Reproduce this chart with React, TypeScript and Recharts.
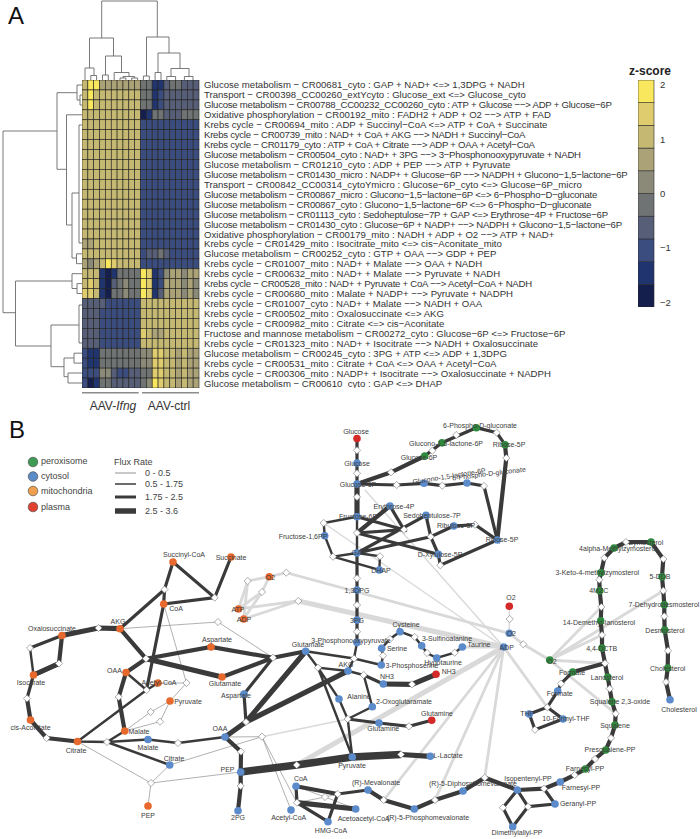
import { ComposedChart, ScatterChart, Scatter, Line, XAxis, YAxis } from 'recharts';

const FONT = 'Arial, "Liberation Sans", sans-serif';
const INK = '#3a3a3a';

const rowLabels = [
  'Glucose metabolism − CR00681_cyto : GAP + NAD+ <=> 1,3DPG + NADH',
  'Transport − CR00398_CC00260_extYcyto : Glucose_ext <=> Glucose_cyto',
  'Glucose metabolism − CR00788_CC00232_CC00260_cyto : ATP + Glucose −−> ADP + Glucose−6P',
  'Oxidative phosphorylation − CR00192_mito : FADH2 + ADP + O2 −−> ATP + FAD',
  'Krebs cycle − CR00694_mito : ADP + Succinyl−CoA <=> ATP + CoA + Succinate',
  'Krebs cycle − CR00739_mito : NAD+ + CoA + AKG −−> NADH + Succinyl−CoA',
  'Krebs cycle − CR01179_cyto : ATP + CoA + Citrate −−> ADP + OAA + Acetyl−CoA',
  'Glucose metabolism − CR00504_cyto : NAD+ + 3PG −−> 3−Phosphonooxypyruvate + NADH',
  'Glucose metabolism − CR01210_cyto : ADP + PEP −−> ATP + Pyruvate',
  'Glucose metabolism − CR01430_micro : NADP+ + Glucose−6P −−> NADPH + Glucono−1,5−lactone−6P',
  'Transport − CR00842_CC00314_cytoYmicro : Glucose−6P_cyto <=> Glucose−6P_micro',
  'Glucose metabolism − CR00867_micro : Glucono−1,5−lactone−6P <=> 6−Phospho−D−gluconate',
  'Glucose metabolism − CR00867_cyto : Glucono−1,5−lactone−6P <=> 6−Phospho−D−gluconate',
  'Glucose metabolism − CR01113_cyto : Sedoheptulose−7P + GAP <=> Erythrose−4P + Fructose−6P',
  'Glucose metabolism − CR01430_cyto : Glucose−6P + NADP+ −−> NADPH + Glucono−1,5−lactone−6P',
  'Oxidative phosphorylation − CR00179_mito : NADH + ADP + O2 −−> ATP + NAD+',
  'Krebs cycle − CR01429_mito : Isocitrate_mito <=> cis−Aconitate_mito',
  'Glucose metabolism − CR00252_cyto : GTP + OAA −−> GDP + PEP',
  'Krebs cycle − CR01007_mito : NAD+ + Malate −−> OAA + NADH',
  'Krebs cycle − CR00632_mito : NAD+ + Malate −−> Pyruvate + NADH',
  'Krebs cycle − CR00528_mito : NAD+ + Pyruvate + CoA −−> Acetyl−CoA + NADH',
  'Krebs cycle − CR00680_mito : Malate + NADP+ −−> Pyruvate + NADPH',
  'Krebs cycle − CR01007_cyto : NAD+ + Malate −−> NADH + OAA',
  'Krebs cycle − CR00502_mito : Oxalosuccinate <=> AKG',
  'Krebs cycle − CR00982_mito : Citrate <=> cis−Aconitate',
  'Fructose and mannose metabolism − CR00272_cyto : Glucose−6P <=> Fructose−6P',
  'Krebs cycle − CR01323_mito : NAD+ + Isocitrate −−> NADH + Oxalosuccinate',
  'Glucose metabolism − CR00245_cyto : 3PG + ATP <=> ADP + 1,3DPG',
  'Krebs cycle − CR00531_mito : Citrate + CoA <=> OAA + Acetyl−CoA',
  'Krebs cycle − CR00306_mito : NADP+ + Isocitrate −−> Oxalosuccinate + NADPH',
  'Glucose metabolism − CR00610_cyto : GAP <=> DHAP',
];

// z-scores, one row per reaction, 20 samples
const zScores = [
  [1.0, 1.9, 1.7, 0.5, 0.5, 0.5, 0.6, 0.5, 0.5, 0.5, -0.3, -0.3, -1.4, -1.3, -0.7, -0.4, -0.4, -0.7, -0.7, -0.7],
  [1.0, 1.9, 1.1, 1.0, 1.0, 1.0, 1.0, 1.0, 1.0, 1.0, -0.4, -0.4, -1.3, -0.9, -0.8, -0.8, -0.8, -0.8, -0.8, -0.8],
  [1.0, 1.9, 1.1, 1.0, 1.0, 1.0, 1.0, 1.0, 1.0, 1.0, -0.4, -0.4, -1.3, -0.9, -0.8, -0.8, -0.8, -0.8, -0.8, -0.8],
  [1.0, 1.0, 1.0, 1.0, 1.0, 1.0, 1.0, 1.0, 1.0, 1.0, -1.7, -1.4, -0.3, -0.2, -0.8, -0.8, -0.8, -0.3, -0.3, -0.3],
  [1.0, 1.0, 1.0, 1.0, 1.0, 1.0, 1.0, 1.0, 1.0, 1.0, -0.9, -0.9, -0.9, -0.9, -0.9, -0.9, -0.9, -0.9, -0.9, -0.9],
  [1.0, 1.0, 1.0, 1.0, 1.0, 1.0, 1.0, 1.0, 1.0, 1.0, -0.9, -0.9, -0.9, -0.9, -0.9, -0.9, -0.9, -0.9, -0.9, -0.9],
  [1.0, 1.0, 1.0, 1.0, 1.0, 1.0, 1.0, 1.0, 1.0, 1.0, -0.9, -0.9, -0.9, -0.9, -0.9, -0.9, -0.9, -0.9, -0.9, -0.9],
  [1.0, 1.0, 1.0, 1.0, 1.0, 1.0, 1.0, 1.0, 1.0, 1.0, -0.9, -0.9, -0.9, -0.9, -0.9, -0.9, -0.9, -0.9, -0.9, -0.9],
  [1.0, 1.0, 1.0, 1.0, 1.0, 1.0, 1.0, 1.0, 1.0, 1.0, -0.9, -0.9, -0.9, -0.9, -0.9, -0.9, -0.9, -0.9, -0.9, -0.9],
  [1.0, 1.0, 1.0, 1.0, 1.0, 1.0, 1.0, 1.0, 1.0, 1.0, -0.9, -0.9, -0.9, -0.9, -0.9, -0.9, -0.9, -0.9, -0.9, -0.9],
  [1.0, 1.0, 1.0, 1.0, 1.0, 1.0, 1.0, 1.0, 1.0, 1.0, -0.9, -0.9, -0.9, -0.9, -0.9, -0.9, -0.9, -0.9, -0.9, -0.9],
  [1.0, 1.0, 1.0, 1.0, 1.0, 1.0, 1.0, 1.0, 1.0, 1.0, -0.9, -0.9, -0.9, -0.9, -0.9, -0.9, -0.9, -0.9, -0.9, -0.9],
  [1.0, 1.0, 1.0, 1.0, 1.0, 1.0, 1.0, 1.0, 1.0, 1.0, -0.9, -0.9, -0.9, -0.9, -0.9, -0.9, -0.9, -0.9, -0.9, -0.9],
  [1.0, 1.0, 1.0, 1.0, 1.0, 1.0, 1.0, 1.0, 1.0, 1.0, -0.9, -0.9, -0.9, -0.9, -0.9, -0.9, -0.9, -0.9, -0.9, -0.9],
  [1.0, 1.0, 1.0, 1.0, 1.0, 1.0, 1.0, 1.0, 1.0, 1.0, -0.9, -0.9, -0.9, -0.9, -0.9, -0.9, -0.9, -0.9, -0.9, -0.9],
  [1.0, 1.0, 1.0, 1.0, 1.0, 1.0, 1.0, 1.0, 1.0, 1.0, -0.9, -0.9, -0.9, -0.9, -0.9, -0.9, -0.9, -0.9, -0.9, -0.9],
  [0.8, 0.5, 1.0, 1.0, 1.0, 1.0, 1.0, 1.0, 1.0, 1.0, -0.9, -0.9, -0.9, -0.9, -0.9, -0.9, -0.9, -0.9, -0.9, -0.9],
  [1.0, 0.9, 1.0, 1.0, 1.0, 1.0, 1.0, 1.0, 1.0, 1.0, -1.2, -0.8, -0.5, -0.4, -0.7, -0.9, -0.9, -0.9, -0.9, -0.9],
  [0.5, 0.4, 0.5, 1.2, 1.7, 1.5, 1.0, 1.0, 1.0, 1.0, -0.9, -0.9, -0.9, -0.9, -0.9, -0.9, -0.9, -0.9, -0.9, -0.9],
  [1.0, 0.9, 1.0, -1.4, -1.7, -1.5, -0.2, -0.2, -0.2, -0.2, 1.9, 1.6, -1.3, -1.1, 0.4, 0.6, 0.6, 0.4, 0.5, 0.5],
  [0.9, 1.6, 1.0, -1.3, -1.8, -0.5, -0.2, 0.1, -0.2, -0.2, 2.0, 1.5, -1.6, -0.9, 0.5, 0.8, 0.7, 0.2, 0.6, 0.2],
  [1.5, 1.5, 1.0, -1.4, -1.7, -0.4, -0.2, 0.1, -0.2, -0.2, 1.8, 1.4, -1.5, -0.8, 0.6, 0.8, 0.7, 0.2, 0.6, 0.2],
  [-0.5, -0.5, -0.6, -0.8, -0.9, -0.9, -0.9, -0.9, -0.9, -0.9, 1.0, 1.0, 1.0, 1.0, 1.0, 1.0, 1.0, 1.0, 1.0, 1.0],
  [-0.8, -0.5, -0.5, -0.9, -0.9, -0.9, -0.9, -0.9, -0.9, -0.9, 1.0, 1.0, 1.0, 1.0, 1.0, 1.0, 1.0, 1.0, 1.0, 1.0],
  [-0.8, -0.5, -0.5, -0.9, -0.9, -0.9, -0.9, -0.9, -0.9, -0.9, 1.0, 1.0, 1.0, 1.0, 1.0, 1.0, 1.0, 1.0, 1.0, 1.0],
  [-0.8, -0.6, -0.8, -0.9, -0.9, -0.9, -0.9, -0.9, -0.9, -0.9, 1.5, 1.1, 0.5, 0.5, 1.0, 1.0, 1.0, 1.0, 1.0, 1.0],
  [-0.8, -0.6, -0.8, -0.9, -0.9, -0.9, -0.9, -0.9, -0.9, -0.9, 1.0, 1.0, 1.0, 1.0, 1.0, 1.0, 1.0, 1.0, 1.0, 1.0],
  [-0.9, -1.3, -1.5, -0.4, -0.4, -0.4, -0.4, -0.4, -0.4, -0.4, 0.1, 0.2, 1.4, 1.5, 1.0, 1.0, 0.6, 1.0, 0.6, 0.6],
  [-0.9, -1.3, -1.5, -0.4, -0.4, -0.4, -0.4, -0.4, -0.4, -0.4, 0.1, 0.2, 1.4, 1.5, 1.0, 1.0, 0.6, 1.0, 0.6, 0.6],
  [-1.0, -1.2, -1.2, 0.0, 0.0, -0.5, -0.9, -0.9, -0.5, -0.5, -0.2, -0.2, 1.5, 1.4, 1.0, 1.0, 0.6, 1.0, 0.6, 0.6],
  [-1.2, -1.8, -1.4, -0.4, -0.4, -0.5, -0.5, -0.5, -0.5, -0.5, -0.1, 0.0, 2.0, 1.6, 1.0, 1.0, 0.6, 1.0, 0.6, 0.6],
];

const binEdges = [-2.09, -1.672, -1.254, -0.836, -0.418, 0, 0.418, 0.836, 1.254, 1.672, 2.09];
const binColors = ['#141f4e', '#20346f', '#3b4d7f', '#575f78', '#707374', '#8b8a79', '#aba277', '#c5b873', '#dfcc6f', '#f9e75e'];
const zTicks = [-2, -1, 0, 1, 2];

// dendrograms, drawn as elbow paths (x, y, x, y, ...)
const dendrogramPaths = [
  [101.7, 38, 101.7, 1, 157.3, 1, 157.3, 37],
  [89.5, 68, 89.5, 38, 113.5, 38, 113.5, 56],
  [105.5, 75, 105.5, 56, 121.5, 56, 121.5, 72.5],
  [85, 80, 85, 68, 94, 68, 94, 75.5],
  [90.8, 80, 90.8, 75.5, 96.6, 75.5, 96.6, 80],
  [102.5, 80, 102.5, 75, 108.3, 75, 108.3, 80],
  [114.2, 80, 114.2, 72.5, 129, 72.5, 129, 76.5],
  [123, 78, 123, 76.5, 134.6, 76.5, 134.6, 78],
  [120, 80, 120, 78, 125.9, 78, 125.9, 80],
  [131.7, 80, 131.7, 78, 137.6, 78, 137.6, 80],
  [146.5, 76, 146.5, 37, 169, 37, 169, 53],
  [143.4, 80, 143.4, 76, 149.3, 76, 149.3, 80],
  [158, 72.5, 158, 53, 180, 53, 180, 68.5],
  [155.1, 80, 155.1, 72.5, 161, 72.5, 161, 80],
  [171, 76.5, 171, 68.5, 189, 68.5, 189, 76.5],
  [166.8, 80, 166.8, 76.5, 175.6, 76.5, 175.6, 80],
  [184.4, 80, 184.4, 76.5, 193, 76.5, 193, 80],
  [57, 131, 3, 131, 3, 312.7, 15.5, 312.7],
  [77, 92.7, 57, 92.7, 57, 169.3, 66.5, 169.3],
  [82, 85, 77, 85, 77, 100, 80, 100],
  [82, 95, 80, 95, 80, 105, 82, 105],
  [82, 114.8, 66.5, 114.8, 66.5, 225, 72, 225],
  [79, 193, 72, 193, 72, 258, 76.5, 258],
  [82, 253.8, 76.5, 253.8, 76.5, 263.7, 82, 263.7],
  [82, 125, 79, 125, 79, 243, 82, 243],
  [72, 281, 15.5, 281, 15.5, 346, 51, 346],
  [82, 273.7, 72, 273.7, 72, 288.5, 77, 288.5],
  [82, 283.6, 77, 283.6, 77, 293.5, 82, 293.5],
  [79, 325, 51, 325, 51, 366.7, 64, 366.7],
  [82, 305, 79, 305, 79, 343, 82, 343],
  [74, 358, 64, 358, 64, 376.7, 68, 376.7],
  [82, 353.2, 74, 353.2, 74, 363.1, 82, 363.1],
  [82, 373, 68, 373, 68, 383, 82, 383],
];
const groupBars = [
  [82, 392.7, 138.7, 392.7],
  [142, 392.7, 199, 392.7],
];

// flux edges by line weight
const paleWideEdges = [
  [296.7, 765, 503.7, 647],
  [298.3, 601, 503.7, 647],
];
const paleEdges = [
  [238.5, 609, 247.7, 581, 269.3, 576.7, 286.3, 572.7, 509.3, 633.3],
  [243.7, 619, 262, 592, 269.3, 576.7],
  [238.5, 609, 262, 592],
  [238.5, 609, 298.3, 601, 243.7, 619],
  [247.7, 581, 243.7, 619],
  [383.7, 800, 503.7, 647],
  [435, 800, 503.7, 647],
  [484.7, 777.7, 503.7, 647],
  [547.3, 707.3, 503.7, 647],
  [462.3, 647, 503.7, 647],
  [509.3, 633.3, 523.3, 644.3, 549.7, 660, 605, 663.3],
  [549.7, 660, 601.3, 607],
  [549.7, 660, 602, 635],
  [549.7, 660, 663.3, 590.7],
  [549.7, 660, 615.7, 713.7],
];
const paleThinEdges = [
  [365, 490, 503.7, 647],
  [323.7, 523, 503.7, 647],
  [262, 736.7, 347.7, 719],
  [509.3, 606.3, 509.3, 633.3],
];
const thinEdges = [
  [120, 628.7, 218, 622, 273, 657.7],
  [163.7, 604, 186.5, 683, 158, 683],
  [186.5, 683, 170, 701, 150.7, 712, 124.7, 731],
  [170, 701, 160, 721.7, 124.7, 731],
  [77.5, 741.5, 151, 783, 169.7, 765, 262, 736.7, 225, 737],
  [151, 783, 148, 806],
  [151, 783, 240.7, 772],
  [262, 736.7, 291, 810],
  [262, 736.7, 297, 802.7],
  [297, 802.7, 325, 797, 337.7, 794],
  [296, 786.3, 325, 797, 355.7, 809],
];
const flux2Edges = [
  [30, 648, 33.5, 675],
  [77.5, 741.5, 107, 742, 124.7, 731],
  [107, 742, 148, 739.5, 178, 743, 225, 737],
  [107, 742, 169.7, 765],
  [126, 672.5, 146.5, 690, 158, 683],
  [77.5, 741.5, 146.5, 690],
  [305.7, 651.3, 354, 658.5, 381.3, 665],
  [354, 658.5, 357, 642.5],
  [354, 658.5, 348, 671],
  [305.7, 651.3, 318, 667.7, 348, 671],
  [318, 667.7, 352.3, 757],
  [318, 667.7, 339, 699, 347.7, 719, 352.3, 757],
  [372.3, 706.7, 347.7, 719],
  [348, 671, 363.7, 675, 372.3, 706.7],
  [381.7, 648.3, 383, 655.7, 381.3, 665],
  [381.7, 648.3, 390, 639, 400, 631.7, 414.7, 637, 421.7, 645.7, 427, 653, 436.7, 658, 454.7, 652.7, 462.3, 647],
  [357, 516.7, 323.7, 523, 324.7, 535.7, 333, 556.7, 357, 553, 380, 556.3, 379.3, 570, 333, 556.7],
  [357, 516.7, 357, 553],
];
const flux3Edges = [
  [231, 557, 214.7, 597.7, 173, 562, 164.5, 589.5, 163.7, 604, 214.7, 597.7],
  [120, 628.7, 164.5, 589.5],
  [163.7, 604, 146.5, 690],
  [62, 635.5, 30, 648],
  [33.5, 675, 27, 698.5],
  [273, 657.7, 244, 694, 246, 722],
  [347.7, 719, 379, 723, 409, 726.3, 431.7, 720.3],
  [363.7, 675, 383.3, 684],
  [357, 438.5, 357, 484],
  [357, 553, 357, 642.5],
  [357, 484, 396.7, 485, 424, 483.3, 442.3, 485.7, 467, 483, 484, 486, 497.3, 540, 475, 524.7, 453.7, 526, 430.7, 536.7, 357, 553],
  [424.7, 456, 442, 442.7, 476.3, 427.7, 496.7, 432.7, 505, 444.7],
  [426, 515.3, 430.7, 536.7, 438.3, 554.3, 440.3, 565.3, 497.3, 540],
  [426, 515.3, 357, 553],
  [390, 506, 404, 529.7, 357, 516.7],
  [404, 529.7, 357, 533, 438.3, 554.3],
  [337.7, 794, 368, 790],
  [296, 786.3, 297, 802.7, 328, 821.7, 337.7, 794],
  [517.3, 790, 503, 807.7, 512.7, 826.7, 528, 806.7, 517.3, 790],
  [528, 806.7, 555, 804, 544, 788.7],
  [572.7, 672, 561, 683.7, 557.7, 691, 547.3, 707.3, 529.3, 714, 535, 729.7, 563, 719, 547.3, 707.3],
];
const flux4Edges = [
  [120, 628.7, 146, 658.7, 211, 647, 273, 657.7],
  [146, 658.7, 126, 672.5, 118.7, 697, 124.7, 731],
  [222, 677, 273, 657.7, 305.7, 651.3],
  [62, 635.5, 59, 663.5, 33.5, 675],
  [27, 698.5, 30.5, 720, 46.5, 738, 77.5, 741.5],
  [225, 737, 241, 751.7, 240.7, 772, 240.7, 786, 238, 810.7],
  [390, 506, 357, 533],
  [357, 484, 391, 472.3, 424.7, 456],
  [505, 444.7, 506.3, 458, 497.3, 540],
  [296, 786.3, 337.7, 794],
  [368, 790, 383.7, 800, 414.3, 809, 435, 800, 463, 791, 484.7, 777.7, 517.3, 790, 544, 788.7, 560.3, 782, 574.7, 775, 585.3, 769, 595, 759, 605.7, 750, 611, 738, 615, 725, 615.7, 713.7, 612, 701.7, 609.7, 688.7, 607.7, 677, 605, 663.3, 602, 648, 602, 635, 600.7, 620.7, 601.3, 607, 599.7, 590.7, 599.3, 579.7, 601, 572.7, 604.3, 558, 614, 548, 626, 542, 651, 542, 663.3, 559, 662, 576.7, 663.3, 590.7, 664.3, 604.7, 664.3, 616.3, 664.7, 630, 668, 650.7, 667.7, 668, 666, 682, 670, 699.7],
  [605, 663.3, 572.7, 672],
];
const flux5Edges = [
  [62, 635.5, 98.5, 628, 120, 628.7],
  [146, 658.7, 222, 677],
  [225, 737, 246, 722, 348, 671],
  [305.7, 651.3, 246, 722],
  [59, 663.5, 33.5, 675],
  [357, 484, 357, 516.7],
  [383.3, 684, 412, 684.3, 436, 674.3],
  [297, 802.7, 355.7, 809],
  [401, 754.5, 430.3, 756.3],
];
const flux7Edges = [[240.7, 772, 296.7, 765, 352.3, 757, 401, 754.5]];

const legendEdges = [
  { weight: 0.8, color: '#777777', path: [115, 473, 136, 473] },
  { weight: 1.5, color: INK, path: [115, 484, 136, 484] },
  { weight: 3, color: INK, path: [115, 497, 136, 497] },
  { weight: 5.5, color: INK, path: [115, 511, 136, 511] },
];

const reactionDiamonds = [
  [164.5, 589.5], [214.7, 597.7], [98.5, 628], [30, 648], [59, 663.5], [27, 698.5], [46.5, 738], [107, 742], [178, 743],
  [151, 783], [146, 658.7], [118.7, 697], [146.5, 690], [186.5, 683], [150.7, 712], [160, 721.7], [218, 622], [240.7, 786],
  [241, 751.7], [262, 736.7], [273, 657.7], [246, 722], [318, 667.7], [354, 658.5], [357, 631.7], [383, 655.7], [390, 639],
  [414.7, 637], [427, 653], [454.7, 652.7], [363.7, 675], [412, 684.3], [347.7, 719], [409, 726.3], [296.7, 765], [401, 754.5],
  [337.7, 794], [325, 797], [383.7, 800], [435, 800], [297, 802.7], [484.7, 777.7], [544, 788.7], [503, 807.7], [528, 806.7],
  [574.7, 775], [595, 759], [611, 738], [615.7, 713.7], [609.7, 688.7], [605, 663.3], [602, 635], [601.3, 607], [599.3, 579.7],
  [604.3, 558], [626, 542], [663.3, 559], [663.3, 590.7], [664.3, 616.3], [668, 650.7], [666, 682], [509.7, 619], [523.3, 644.3],
  [561, 683.7], [547.3, 707.3], [535, 729.7], [357, 450.3], [357, 473.3], [357, 497], [357, 533], [357, 578.3], [357, 605],
  [391, 472.3], [432.3, 450.7], [456.3, 435], [496.7, 432.7], [506.3, 458], [396.7, 485], [442.3, 485.7], [484, 486], [404, 529.7],
  [430.7, 536.7], [475, 524.7], [440.3, 565.3], [323.7, 523], [333, 556.7], [380, 556.3], [286.3, 572.7], [247.7, 581], [262, 592], [298.3, 601],
];
const peroxisomeNodes = [
  [424.7, 456], [442, 442.7], [476.3, 427.7], [505, 444.7], [585.3, 769], [605.7, 750], [615, 725], [612, 701.7], [607.7, 677],
  [602, 648], [600.7, 620.7], [599.7, 590.7], [601, 572.7], [614, 548], [651, 542], [662, 576.7], [664.3, 604.7], [664.7, 630],
  [667.7, 668], [549.7, 660], [572.7, 672],
];
const cytosolNodes = [
  [148, 739.5], [225, 737], [169.7, 765], [244, 694], [240.7, 772], [238, 810.7], [305.7, 651.3], [348, 671], [357, 642.5], [357, 620],
  [381.7, 648.3], [381.3, 665], [400, 631.7], [421.7, 645.7], [436.7, 658], [462.3, 647], [383.3, 684], [339, 699], [372.3, 706.7],
  [379, 723], [352.3, 757], [430.3, 756.3], [296, 786.3], [368, 790], [414.3, 809], [463, 791], [291, 810], [355.7, 809], [328, 821.7],
  [517.3, 790], [560.3, 782], [555, 804], [512.7, 826.7], [670, 699.7], [509.3, 633.3], [503.7, 647], [557.7, 691], [529.3, 714], [563, 719],
  [497.3, 540], [357, 463], [357, 484], [357, 516.7], [357, 553], [357, 590], [424, 483.3], [467, 483], [390, 506], [426, 515.3], [453.7, 526],
  [438.3, 554.3], [324.7, 535.7], [379.3, 570],
];
const mitochondriaNodes = [
  [173, 562], [231, 557], [163.7, 604], [120, 628.7], [62, 635.5], [33.5, 675], [30.5, 720], [77.5, 741.5], [124.7, 731], [148, 806], [126, 672.5],
  [158, 683], [170, 701], [211, 647], [222, 677], [269.3, 576.7], [238.5, 609], [243.7, 619],
];
const plasmaNodes = [[357, 438.5], [436, 674.3], [431.7, 720.3], [509.3, 606.3]];

const compartmentLegend = [
  { name: 'peroxisome', color: '#3f9a53', x: 33, y: 462 },
  { name: 'cytosol', color: '#5b8cc8', x: 33, y: 476.5 },
  { name: 'mitochondria', color: '#f0a04c', x: 33, y: 491 },
  { name: 'plasma', color: '#e2402e', x: 33, y: 507 },
];
const fluxLabels = [
  { text: 'Flux Rate', x: 114, y: 462 },
  { text: '0 - 0.5', x: 145, y: 473 },
  { text: '0.5 - 1.75', x: 145, y: 484 },
  { text: '1.75 - 2.5', x: 145, y: 497 },
  { text: '2.5 - 3.6', x: 145, y: 511 },
  { text: 'peroxisome', x: 41, y: 461 },
  { text: 'cytosol', x: 41, y: 476 },
  { text: 'mitochondria', x: 41, y: 491 },
  { text: 'plasma', x: 41, y: 507 },
];

// name, x, y, and rotation when the label is tilted
const metaboliteLabels: [string, number, number, number?][] = [
  ['Succinyl-CoA', 184, 554], ['Succinate', 231, 557], ['CoA', 176, 608], ['AKG', 118, 621], ['Oxalosuccinate', 52, 628],
  ['Isocitrate', 31, 682.5], ['cis-Aconitate', 30.5, 727.7], ['Citrate', 76, 750.5], ['Malate', 139, 731], ['Malate', 148, 747.5],
  ['OAA', 220, 728], ['Citrate', 174, 758], ['PEP', 148, 815], ['OAA', 114.5, 670], ['Acetyl-CoA', 159, 682.5], ['Pyruvate', 188, 701],
  ['Aspartate', 217, 639], ['Glutamate', 225, 683], ['Aspartate', 236, 695], ['PEP', 227.5, 769], ['2PG', 238, 817.5], ['Glutamate', 308, 644.5],
  ['AKG', 346, 664.7], ['3-Phosphonooxypyruvate', 351, 640], ['3PG', 357, 620], ['Serine', 397, 648], ['3-Phosphoserine', 412, 665],
  ['Cysteine', 406, 624.5], ['3-Sulfinoalanine', 447, 638.5], ['Hypotaurine', 443, 662.7], ['Taurine', 479, 644], ['NH3', 387, 676.5],
  ['NH3', 448.7, 671], ['Alanine', 359, 696], ['2-Oxoglutaramate', 404, 701.7], ['Glutamine', 383.3, 728], ['Glutamine', 437, 713],
  ['Pyruvate', 352, 765], ['L-Lactate', 448, 755.5], ['CoA', 300.7, 778], ['(R)-Mevalonate', 376, 782.7], ['(R)-5-Phosphomevalonate', 428, 817],
  ['(R)-5-Diphosphomevalonate', 473, 783], ['Acetyl-CoA', 288.7, 817.7], ['Acetoacetyl-CoA', 363.7, 818], ['HMG-CoA', 331, 830],
  ['Isopentenyl-PP', 528, 778.7], ['Farnesyl-PP', 581, 787], ['Geranyl-PP', 578, 803.7], ['Dimethylallyl-PP', 517, 832.7], ['Farnesyl-PP', 585, 768.7],
  ['Presqualene-PP', 610, 749.7], ['Squalene', 615, 725.7], ['Squalene 2,3-oxide', 620, 701.7], ['Lanosterol', 607, 677], ['4,4-DCTB', 601.7, 648],
  ['14-Demethyl-lanosterol', 599, 622], ['4MZC', 598.7, 590], ['3-Keto-4-methylzymosterol', 597.3, 572.7], ['4alpha-Methylzymosterol', 618, 548],
  ['Zymosterol', 646, 542], ['5-DDB', 660, 576.7], ['7-Dehydrodesmosterol', 664, 604.7], ['Desmosterol', 665, 630.7], ['Cholesterol', 667.7, 668],
  ['Cholesterol', 679, 709.7], ['O2', 511, 597.7], ['O2', 511.3, 633.7], ['ADP', 506.7, 647], ['O2', 552, 661], ['Formate', 572, 672],
  ['Formate', 559.7, 693.3], ['THF', 527, 713], ['10-Formyl-THF', 566, 718.7], ['Ribose-5P', 502, 539.7], ['Glucose', 356, 431], ['Glucose', 357, 463],
  ['Glucose-6P', 358, 484], ['Fructose-6P', 358, 516], ['GAP', 359, 552], ['1,3DPG', 357, 590], ['Glucose-6P', 419, 457],
  ['Glucono-1,5-lactone-6P', 446, 443], ['6-Phospho-D-gluconate', 480, 425.5], ['Ribose-5P', 509, 444], ['Glucono-1,5-lactone-6P', 449, 476, -9],
  ['6-Phospho-D-gluconate', 489, 473.5, -7], ['Erythrose-4P', 394, 506], ['Sedoheptulose-7P', 432, 515.5], ['Ribulose-5P', 456, 525.5],
  ['D-Xylulose-5P', 440, 554.5], ['Fructose-1,6PP', 303, 536], ['DHAP', 381, 570], ['O2', 270.5, 577], ['ATP', 238, 609], ['ADP', 244, 619],
];

const toBrokenLine = (paths: number[][]) =>
  paths.flatMap((path) => {
    const points: { x: number; y: number | null }[] = [];
    for (let i = 0; i < path.length; i += 2) points.push({ x: path[i], y: path[i + 1] });
    points.push({ x: path[path.length - 2], y: null });
    return points;
  });
const toPoints = (list: number[][]) => list.map(([x, y]) => ({ x, y }));

const edgeBands = [
  { data: paleWideEdges, weight: 5, color: '#d9d9d9' },
  { data: paleEdges, weight: 2.8, color: '#d9d9d9' },
  { data: paleThinEdges, weight: 1.4, color: '#d9d9d9' },
  { data: thinEdges, weight: 0.7, color: '#8f8f8f' },
  { data: flux2Edges, weight: 2.4, color: INK },
  { data: flux3Edges, weight: 3.2, color: INK },
  { data: flux4Edges, weight: 4.2, color: INK },
  { data: flux5Edges, weight: 5.2, color: INK },
  { data: flux7Edges, weight: 7.5, color: INK },
];
const nodeGroups = [
  { data: peroxisomeNodes, color: '#2f8a3e' },
  { data: cytosolNodes, color: '#5b8bcb' },
  { data: mitochondriaNodes, color: '#e8692d' },
  { data: plasmaNodes, color: '#d42a2a' },
];

const heatmapData = zScores.flatMap((row, r) => row.map((z, c) => ({ x: c + 0.5, y: r + 0.5, z })));
const binData = binColors.map((color, i) => ({ x: 0.5, y: (binEdges[i] + binEdges[i + 1]) / 2, color }));
const binColor = (z: number) => {
  const i = binEdges.findIndex((edge) => z < edge) - 1;
  return binColors[Math.max(0, i)];
};

const CELL_W = 117 / 20;
const CELL_H = 308 / 31;
const BIN_H = 227 / 10;

function HeatCell(props: any) {
  const { cx, cy, payload } = props;
  return (
    <rect x={cx - CELL_W / 2} y={cy - CELL_H / 2} width={CELL_W} height={CELL_H} fill={binColor(payload.z)} stroke="#20201c" strokeWidth={0.6} />
  );
}

function BinCell(props: any) {
  const { cx, cy, payload } = props;
  return <rect x={cx - 8} y={cy - BIN_H / 2} width={16} height={BIN_H} fill={payload.color} stroke="#2a2a2a" strokeWidth={0.6} />;
}

// plain ticks: the axis' own text wraps long labels
function RowTick(props: any) {
  const { y, payload } = props;
  const label = rowLabels[Math.floor(payload.value)];
  // our minus sign is wider than the original's, so rows with many of them run long
  const minusCount = label.split('−').length - 1;
  return (
    <text x={122} y={y} fontSize={9.6} letterSpacing={minusCount >= 4 ? -0.25 : 0} fontFamily={FONT} fill="#333333" dominantBaseline="central">
      {label}
    </text>
  );
}

function ZTick(props: any) {
  const { y, payload } = props;
  return (
    <text x={22} y={y} fontSize={9.5} fontFamily={FONT} fill="#333333" dominantBaseline="central">
      {String(payload.value).replace('-', '−')}
    </text>
  );
}

const diamond = (props: any) => {
  const { cx, cy } = props;
  return <path d={`M${cx - 3.6},${cy}L${cx},${cy - 3.6}L${cx + 3.6},${cy}L${cx},${cy + 3.6}Z`} fill="#ffffff" stroke="#777777" strokeWidth={0.6} />;
};
const circle = (color: string) => (props: any) => <circle cx={props.cx} cy={props.cy} r={3.8} fill={color} />;
const legendCircle = (props: any) => <circle cx={props.cx} cy={props.cy} r={4.8} fill={props.payload.color} stroke="#555555" strokeWidth={0.7} />;

const textShape = (size: number, anchor: string, color: string, weight = 'normal') => (props: any) => {
  const { cx, cy, payload } = props;
  return (
    <text
      x={cx}
      y={cy}
      fontSize={size}
      fontWeight={weight}
      fontFamily={FONT}
      textAnchor={anchor}
      dominantBaseline="central"
      fill={color}
      transform={payload.angle ? `rotate(${payload.angle} ${cx} ${cy})` : undefined}
    >
      {payload.text}
      {payload.italic && <tspan fontStyle="italic">{payload.italic}</tspan>}
    </text>
  );
};

export default function App() {
  const labelData = metaboliteLabels.map(([text, x, y, angle]) => ({ text, x, y, angle }));
  return (
    <div style={{ position: 'absolute', left: 0, top: 0, width: 700, height: 839, background: '#ffffff', overflow: 'hidden' }}>
      <div style={{ position: 'absolute', left: 0, top: 0 }}>
        <ComposedChart width={700} height={839} margin={{ top: 0, right: 0, bottom: 0, left: 0 }}>
          <XAxis type="number" dataKey="x" domain={[0, 700]} hide />
          <YAxis type="number" dataKey="y" domain={[0, 839]} reversed hide />
          <Line data={toBrokenLine(dendrogramPaths)} dataKey="y" stroke="#6a6a6a" strokeWidth={0.9} dot={false} activeDot={false} isAnimationActive={false} />
          <Line data={toBrokenLine(groupBars)} dataKey="y" stroke="#8c8c8c" strokeWidth={1.5} dot={false} activeDot={false} isAnimationActive={false} />
          {legendEdges.map((edge) => (
            <Line key={edge.path[1]} data={toBrokenLine([edge.path])} dataKey="y" stroke={edge.color} strokeWidth={edge.weight} dot={false} activeDot={false} isAnimationActive={false} />
          ))}
          {edgeBands.map((band, i) => (
            <Line key={i} data={toBrokenLine(band.data)} dataKey="y" stroke={band.color} strokeWidth={band.weight} dot={false} activeDot={false} isAnimationActive={false} />
          ))}
          <Scatter data={toPoints(reactionDiamonds)} shape={diamond} isAnimationActive={false} />
          {nodeGroups.map((group) => (
            <Scatter key={group.color} data={toPoints(group.data)} shape={circle(group.color)} isAnimationActive={false} />
          ))}
          <Scatter data={compartmentLegend} shape={legendCircle} isAnimationActive={false} />
          <Scatter data={labelData} shape={textShape(7, 'middle', '#3c3c3c')} isAnimationActive={false} />
          <Scatter data={fluxLabels} shape={textShape(9, 'start', '#444444')} isAnimationActive={false} />
          <Scatter
            data={[
              { text: 'A', x: 16, y: 15 },
              { text: 'B', x: 17, y: 429 },
            ]}
            shape={textShape(24, 'middle', '#111111')}
            isAnimationActive={false}
          />
          <Scatter
            data={[
              { text: 'AAV-', italic: 'Ifng', x: 113, y: 405.5 },
              { text: 'AAV-ctrl', x: 169, y: 405.5 },
            ]}
            shape={textShape(12, 'middle', '#333333')}
            isAnimationActive={false}
          />
          <Scatter data={[{ text: 'z-score', x: 650, y: 71 }]} shape={textShape(12, 'middle', '#222222', 'bold')} isAnimationActive={false} />
        </ComposedChart>
      </div>

      <div style={{ position: 'absolute', left: 82, top: 80 }}>
        <ScatterChart width={618} height={308} margin={{ top: 0, right: 0, bottom: 0, left: 0 }}>
          <XAxis type="number" dataKey="x" domain={[0, 20]} hide />
          <YAxis
            type="number"
            dataKey="y"
            orientation="right"
            reversed
            domain={[0, 31]}
            ticks={rowLabels.map((_, i) => i + 0.5)}
            interval={0}
            width={501}
            axisLine={false}
            tickLine={false}
            tick={RowTick}
          />
          <Scatter data={heatmapData} shape={HeatCell} isAnimationActive={false} />
        </ScatterChart>
      </div>

      <div style={{ position: 'absolute', left: 638, top: 80 }}>
        <ScatterChart width={50} height={227} margin={{ top: 0, right: 0, bottom: 0, left: 0 }}>
          <XAxis type="number" dataKey="x" domain={[0, 1]} hide />
          <YAxis
            type="number"
            dataKey="y"
            orientation="right"
            domain={[-2.09, 2.09]}
            ticks={zTicks}
            interval={0}
            width={34}
            axisLine={false}
            tickLine={false}
            tick={ZTick}
          />
          <Scatter data={binData} shape={BinCell} isAnimationActive={false} />
        </ScatterChart>
      </div>
    </div>
  );
}
